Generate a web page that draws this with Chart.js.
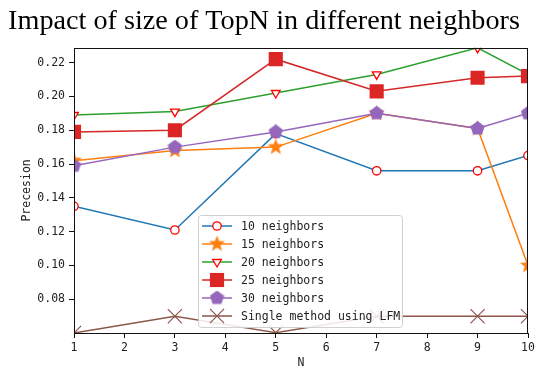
<!DOCTYPE html>
<html>
<head>
<meta charset="utf-8">
<script src="https://cdn.jsdelivr.net/npm/chart.js@4/dist/chart.umd.min.js"></script>
<style>
  html, body { margin: 0; padding: 0; background: #fff; }
  #wrap { width: 543px; height: 371px; }
</style>
</head>
<body>
<div id="wrap"><canvas id="chart1"></canvas></div>
<script>
var topN = [1, 3, 5, 7, 9, 10]
var xTicks = [1, 2, 3, 4, 5, 6, 7, 8, 9, 10]
var yTicks = [0.08, 0.10, 0.12, 0.14, 0.16, 0.18, 0.20, 0.22]

var nb10 = [0.135, 0.121, 0.178, 0.156, 0.156, 0.165]
var nb15 = [0.162, 0.168, 0.170, 0.190, 0.181, 0.100]
var nb20 = [0.189, 0.191, 0.202, 0.213, 0.2287, 0.213]
var nb25 = [0.179, 0.180, 0.222, 0.203, 0.211, 0.212]
var nb30 = [0.159, 0.170, 0.179, 0.190, 0.181, 0.190]
var lfm  = [0.0601, 0.070, 0.0603, 0.070, 0.070, 0.070]

var monoFont = 'DejaVu Sans Mono'

function pts(arr) {
    return arr.map(function (v, i) { return { x: topN[i], y: v } })
}

// filled marker images for the shapes chart.js doesn't have
function polyImg(size, color, n, inner) {
    var c = document.createElement('canvas')
    c.width = size; c.height = size
    var ctx = c.getContext('2d')
    var r = size / 2, cx = size / 2, cy = size / 2
    ctx.beginPath()
    var steps = inner ? n * 2 : n
    for (var i = 0; i < steps; i++) {
        var a = -Math.PI / 2 + i * Math.PI * 2 / steps
        var rr = (inner && i % 2 == 1) ? r * inner : r
        var px = cx + rr * Math.cos(a), py = cy + rr * Math.sin(a)
        if (i == 0) ctx.moveTo(px, py); else ctx.lineTo(px, py)
    }
    ctx.closePath()
    ctx.fillStyle = color
    ctx.fill()
    return c
}

var starImg = polyImg(17, '#ff7f0e', 5, 0.42)
var pentImg = polyImg(15, '#9467bd', 5)

var frame = {
    id: 'frame',
    afterDatasetsDraw: function (chart) {
        var a = chart.chartArea, ctx = chart.ctx
        ctx.save()
        ctx.strokeStyle = '#111'
        ctx.lineWidth = 1
        ctx.strokeRect(Math.round(a.left) + 0.5, Math.round(a.top) + 0.5,
            Math.round(a.right - a.left) - 1, Math.round(a.bottom - a.top))
        ctx.restore()
    }
}

// legend sits inside the plot, lower middle, like the matplotlib one
var innerLegend = {
    id: 'innerLegend',
    afterDraw: function (chart) {
        var ctx = chart.ctx
        var x0 = 198, y0 = 215, w = 204, h = 112
        ctx.save()
        ctx.beginPath()
        ctx.roundRect(x0 + 0.5, y0 + 0.5, w, h, 3)
        ctx.fillStyle = 'rgba(255,255,255,0.85)'
        ctx.fill()
        ctx.strokeStyle = '#d0d0d0'
        ctx.lineWidth = 1
        ctx.stroke()
        chart.data.datasets.forEach(function (ds, i) {
            var cy = y0 + 11 + i * 18
            ctx.strokeStyle = ds.borderColor
            ctx.lineWidth = ds.borderWidth
            ctx.beginPath()
            ctx.moveTo(x0 + 4, cy)
            ctx.lineTo(x0 + 34, cy)
            ctx.stroke()
            ctx.fillStyle = ds.pointBackgroundColor
            ctx.strokeStyle = ds.pointBorderColor
            ctx.lineWidth = ds.pointBorderWidth
            Chart.helpers.drawPoint(ctx, {
                pointStyle: ds.pointStyle,
                radius: ds.pointRadius,
                rotation: ds.pointRotation || 0,
                borderWidth: ds.pointBorderWidth
            }, x0 + 19, cy)
            ctx.fillStyle = '#222'
            ctx.font = '11.5px "' + monoFont + '"'
            ctx.textBaseline = 'middle'
            ctx.fillText(ds.label, x0 + 43, cy + 1)
        })
        ctx.restore()
    }
}

var chart1 = new Chart(
    document.getElementById('chart1'),
    {
        type: 'line',
        data: {
            datasets: [
                {
                    label: '10 neighbors',
                    data: pts(nb10),
                    borderColor: '#1f77b4',
                    borderWidth: 1.5,
                    pointStyle: 'circle',
                    pointRadius: 4.2,
                    pointBackgroundColor: '#ffffff',
                    pointBorderColor: '#ff0000',
                    pointBorderWidth: 1.3,
                    order: 5
                },
                {
                    label: '15 neighbors',
                    data: pts(nb15),
                    borderColor: '#ff7f0e',
                    borderWidth: 1.5,
                    pointStyle: starImg,
                    pointRadius: 8,
                    pointBackgroundColor: '#ff7f0e',
                    pointBorderColor: '#ff7f0e',
                    pointBorderWidth: 0,
                    order: 4
                },
                {
                    label: '20 neighbors',
                    data: pts(nb20),
                    borderColor: '#2ca02c',
                    borderWidth: 1.5,
                    pointStyle: 'triangle',
                    pointRotation: 180,
                    pointRadius: 5,
                    pointBackgroundColor: '#ffffff',
                    pointBorderColor: '#ff0000',
                    pointBorderWidth: 1.3,
                    order: 3
                },
                {
                    label: '25 neighbors',
                    data: pts(nb25),
                    borderColor: '#d62728',
                    borderWidth: 1.5,
                    pointStyle: 'rect',
                    pointRadius: 10,
                    pointBackgroundColor: '#dc2626',
                    pointBorderColor: '#dc2626',
                    pointBorderWidth: 0,
                    order: 2
                },
                {
                    label: '30 neighbors',
                    data: pts(nb30),
                    borderColor: '#9467bd',
                    borderWidth: 1.5,
                    pointStyle: pentImg,
                    pointRadius: 8,
                    pointBackgroundColor: '#9467bd',
                    pointBorderColor: '#9467bd',
                    pointBorderWidth: 0,
                    order: 1
                },
                {
                    label: 'Single method using LFM',
                    data: pts(lfm),
                    borderColor: '#8c564b',
                    borderWidth: 1.5,
                    pointStyle: 'crossRot',
                    pointRadius: 10,
                    pointBackgroundColor: '#8c564b',
                    pointBorderColor: '#8c564b',
                    pointBorderWidth: 1.2,
                    order: 0
                }
            ]
        },
        options: {
            responsive: true,
            maintainAspectRatio: false,
            animation: false,
            datasets: { line: { clip: 0, tension: 0, pointHoverRadius: 0 } },
            layout: { padding: { left: 0, right: 15, top: 0, bottom: 0 } },
            plugins: {
                legend: { display: false },
                tooltip: { enabled: false },
                title: {
                    display: true,
                    text: 'Impact of size of TopN in different neighbors',
                    color: '#000',
                    font: { family: 'Liberation Serif', size: 28.2, weight: 'normal', lineHeight: 1.2 },
                    padding: { top: 5, bottom: 9 }
                }
            },
            scales: {
                x: {
                    type: 'linear',
                    min: 1,
                    max: 10,
                    afterBuildTicks: function (s) { s.ticks = xTicks.map(function (v) { return { value: v } }) },
                    afterFit: function (s) { s.height = 38 },
                    grid: { drawOnChartArea: false, tickLength: 5, tickColor: '#111' },
                    border: { display: false },
                    ticks: { color: '#222', padding: 3, maxRotation: 0, font: { family: monoFont, size: 11.5 } },
                    title: { display: true, text: 'N', color: '#222', padding: { top: 0, bottom: 1 }, font: { family: monoFont, size: 11.5 } }
                },
                y: {
                    min: 0.0601,
                    max: 0.2287,
                    afterBuildTicks: function (s) { s.ticks = yTicks.map(function (v) { return { value: v } }) },
                    afterFit: function (s) { s.width = 74 },
                    grid: { drawOnChartArea: false, tickLength: 5, tickColor: '#111' },
                    border: { display: false },
                    ticks: {
                        color: '#222', padding: 4, font: { family: monoFont, size: 11.5 },
                        callback: function (v) { return v.toFixed(2) }
                    },
                    title: { display: true, text: 'Precesion', color: '#222', padding: { top: 20, bottom: 0 }, font: { family: monoFont, size: 11.5 } }
                }
            }
        },
        plugins: [frame, innerLegend]
    }
);
</script>
</body>
</html>
